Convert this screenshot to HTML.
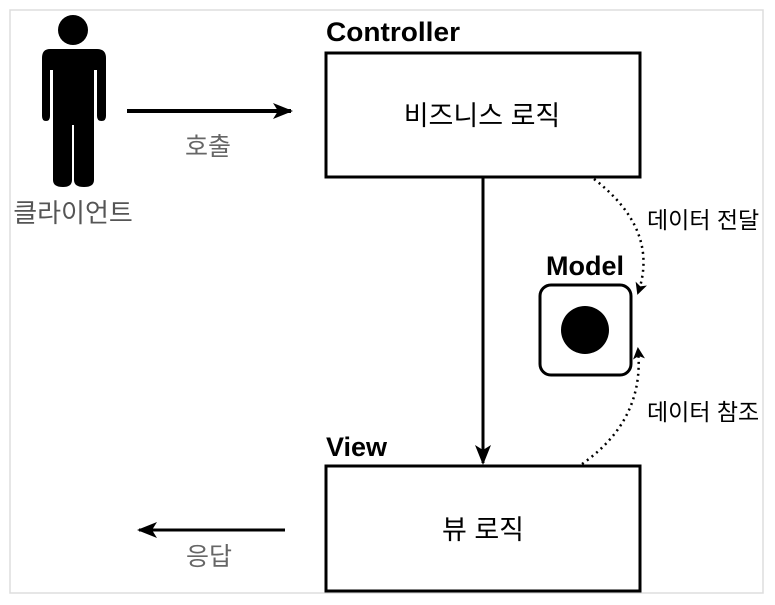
<!DOCTYPE html>
<html><head><meta charset="utf-8"><style>
body{margin:0;background:#fff;}
svg{display:block;}
</style></head><body>
<svg width="775" height="605" viewBox="0 0 775 605" xmlns="http://www.w3.org/2000/svg" font-family="'Liberation Sans','Noto Sans CJK KR',sans-serif">
<rect x="10" y="10" width="753" height="583" fill="#fff" stroke="#ddd" stroke-width="1.5"/>
<defs>
<marker id="ah" markerWidth="12" markerHeight="12" refX="10" refY="6" orient="auto" markerUnits="userSpaceOnUse"><path d="M0,0 L12,6 L0,12 L3,6z" fill="#000"/></marker>
<marker id="ah2" markerWidth="20" markerHeight="16" refX="18" refY="8" orient="auto" markerUnits="userSpaceOnUse"><path d="M0,0 L20,8 L0,16 L5,8z" fill="#000"/></marker>
</defs>
<!-- person -->
<circle cx="73" cy="30" r="15" fill="#000"/>
<path d="M50,49 H97 Q106,49 106,58 V116 Q106,121 101.5,121 Q97,121 97,116 V70 H94 V180 Q94,187 84,187 Q74,187 74,180 V125 H72 V180 Q72,187 63,187 Q53,187 53,180 V70 H50 V116 Q50,121 46,121 Q42,121 42,116 V58 Q42,49 50,49Z" fill="#000"/>
<text x="73" y="222" font-size="26" fill="#555" text-anchor="middle">클라이언트</text>
<line x1="127" y1="111" x2="291" y2="111" stroke="#000" stroke-width="4" marker-end="url(#ah2)"/>
<text x="208" y="155" font-size="25" fill="#666" text-anchor="middle">호출</text>
<!-- controller -->
<text x="326" y="41" font-size="27" font-weight="bold" fill="#000" textLength="134" lengthAdjust="spacingAndGlyphs">Controller</text>
<rect x="326" y="53" width="314" height="124" fill="#fff" stroke="#000" stroke-width="3"/>
<text x="482" y="125" font-size="27" fill="#000" text-anchor="middle">비즈니스 로직</text>
<line x1="483" y1="177" x2="483" y2="463" stroke="#000" stroke-width="3" marker-end="url(#ah2)"/>
<!-- model -->
<text x="585" y="275" font-size="27" font-weight="bold" fill="#000" text-anchor="middle">Model</text>
<rect x="540" y="285" width="91" height="90" rx="11" fill="#fff" stroke="#000" stroke-width="3"/>
<circle cx="585" cy="330" r="24" fill="#000"/>
<path d="M594,179 Q660,230 638,293" fill="none" stroke="#000" stroke-width="2.5" stroke-dasharray="2,4" marker-end="url(#ah)"/>
<path d="M582,464 Q645,420 638,349" fill="none" stroke="#000" stroke-width="2.5" stroke-dasharray="2,4" marker-end="url(#ah)"/>
<text x="647" y="228" font-size="23" fill="#000">데이터 전달</text>
<text x="647" y="420" font-size="23" fill="#000">데이터 참조</text>
<!-- view -->
<text x="326" y="456" font-size="27" font-weight="bold" fill="#000">View</text>
<rect x="326" y="466" width="314" height="125" fill="#fff" stroke="#000" stroke-width="3"/>
<text x="483" y="539" font-size="27" fill="#000" text-anchor="middle">뷰 로직</text>
<line x1="285" y1="530" x2="139" y2="530" stroke="#000" stroke-width="3" marker-end="url(#ah2)"/>
<text x="209" y="565" font-size="25" fill="#666" text-anchor="middle">응답</text>
</svg>
</body></html>
